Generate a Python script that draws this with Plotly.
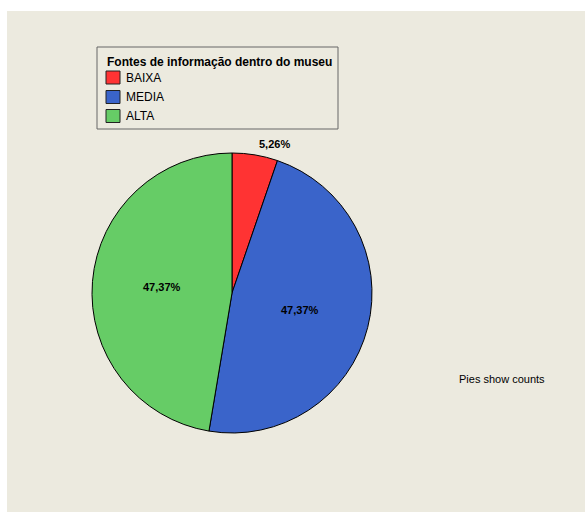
import math
import plotly.graph_objects as go

# Survey answers: sources of information inside the museum
legend_title = "Fontes de informação dentro do museu"
categories = ["BAIXA", "MEDIA", "ALTA"]
counts = [1, 9, 9]
colors = ["#FF3333", "#3A64CA", "#66CC66"]
footnote = "Pies show counts"

W, H = 585, 512
BG = "#ECEADF"
FONT = "Liberation Sans, Arial, sans-serif"

# pie geometry in pixels (center and radius)
cx, cy, r = 232, 293, 140


def px_x(x):
    return x / W


def px_y(y):
    return 1 - y / H


fig = go.Figure()
fig.add_trace(go.Pie(
    labels=categories,
    values=counts,
    marker=dict(colors=colors, line=dict(color="#000000", width=1)),
    sort=False,
    direction="clockwise",
    rotation=0,
    textinfo="none",
    hoverinfo="label+value+percent",
    domain=dict(x=[px_x(cx - r), px_x(cx + r)],
                y=[px_y(cy + r), px_y(cy - r)]),
    showlegend=False,
))

# percentage labels placed along each slice's bisector;
# thin slices get their label just outside the rim
total = sum(counts)
start = 0.0
annotations = []
for name, v in zip(categories, counts):
    frac = v / total
    mid = (start + frac / 2) * 2 * math.pi
    start += frac
    outside = frac < 0.1
    rr = 1.08 if outside else 0.5
    lx = cx + rr * r * math.sin(mid)
    ly = cy - rr * r * math.cos(mid)
    txt = f"{frac * 100:.2f}%".replace(".", ",")
    annotations.append(dict(
        x=px_x(lx), y=px_y(ly), xref="paper", yref="paper",
        text=f"<b>{txt}</b>", showarrow=False,
        font=dict(family=FONT, size=11, color="#000000"),
        xanchor="left" if outside else "center", yanchor="middle",
    ))

annotations.append(dict(
    x=px_x(502), y=px_y(379), xref="paper", yref="paper",
    text=footnote, showarrow=False,
    font=dict(family=FONT, size=11, color="#000000"),
    xanchor="center", yanchor="middle",
))

# framed legend box with title and colour keys
shapes = [dict(type="rect", xref="paper", yref="paper",
               x0=px_x(7), x1=1, y0=0, y1=px_y(11),
               fillcolor=BG, line=dict(width=0), layer="below"),
          dict(type="rect", xref="paper", yref="paper",
               x0=px_x(97), x1=px_x(338), y0=px_y(129), y1=px_y(47),
               fillcolor="rgba(0,0,0,0)",
               line=dict(color="#666666", width=1), layer="above")]

annotations.append(dict(
    x=px_x(105), y=px_y(62), xref="paper", yref="paper",
    text=f"<b>{legend_title}</b>", showarrow=False,
    font=dict(family=FONT, size=12, color="#000000"),
    xanchor="left", yanchor="middle",
))
row_y = [77.5, 97, 116]
for name, col, yy in zip(categories, colors, row_y):
    shapes.append(dict(type="rect", xref="paper", yref="paper",
                       x0=px_x(106), x1=px_x(120),
                       y0=px_y(yy + 6.5), y1=px_y(yy - 6.5),
                       fillcolor=col, line=dict(color="#222222", width=1)))
    annotations.append(dict(
        x=px_x(124), y=px_y(yy), xref="paper", yref="paper",
        text=name, showarrow=False,
        font=dict(family=FONT, size=12, color="#000000"),
        xanchor="left", yanchor="middle",
    ))

fig.update_layout(
    width=W, height=H,
    margin=dict(l=0, r=0, t=0, b=0),
    paper_bgcolor="#FFFFFF",
    plot_bgcolor="rgba(0,0,0,0)",
    font=dict(family=FONT, size=11, color="#000000"),
    annotations=annotations,
    shapes=shapes,
    showlegend=False,
)

fig.write_html("out.html")
